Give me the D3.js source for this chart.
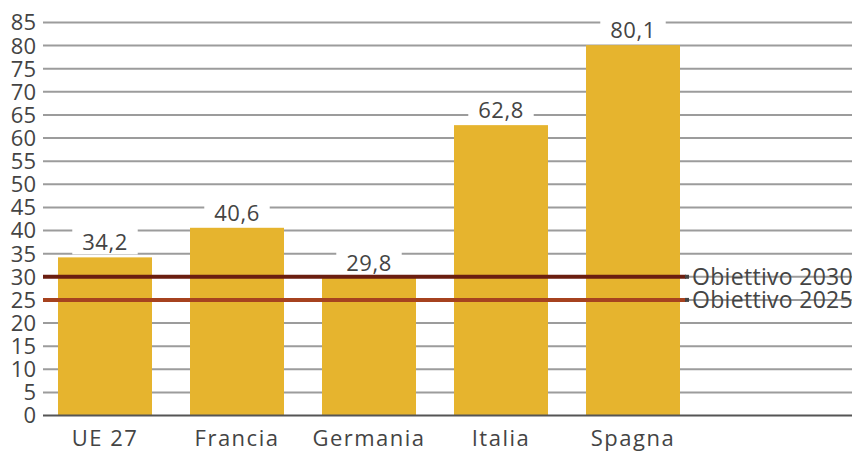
<!DOCTYPE html>
<html>
<head>
<meta charset="utf-8">
<script src="https://cdn.jsdelivr.net/npm/d3@7"></script>
<style>
  html, body { margin: 0; padding: 0; background: #fff; }
  svg { display: block; font-family: "Open Sans", "Noto Sans", sans-serif; }
</style>
</head>
<body>
<svg id="chart" width="856" height="453"></svg>
<script>
const categories = ["UE 27", "Francia", "Germania", "Italia", "Spagna"];
const values = [34.2, 40.6, 29.8, 62.8, 80.1];
const valueLabels = ["34,2", "40,6", "29,8", "62,8", "80,1"];
const yTicks = [0, 5, 10, 15, 20, 25, 30, 35, 40, 45, 50, 55, 60, 65, 70, 75, 80, 85];
const targetNames = ["Obiettivo 2030", "Obiettivo 2025"];
const targetValues = [30, 25];

const svg = d3.select("#chart");
const textColor = "#444";

const y = d3.scaleLinear().domain([0, 85]).range([415.5, 22.5]);
const x = d3.scaleBand().domain(categories).range([39, 699]).paddingInner(0.288).paddingOuter(0.144);

// gridlines
const gridG = svg.append("g");
gridG.selectAll("line").data(yTicks.filter(d => d > 0)).join("line")
  .attr("x1", 43).attr("x2", 852)
  .attr("y1", d => y(d)).attr("y2", d => y(d))
  .attr("stroke", "#9c9c9c").attr("stroke-width", 2);

// y tick labels
svg.append("g").selectAll("text").data(yTicks).join("text")
  .attr("x", 36).attr("y", d => y(d))
  .attr("dy", "0.36em")
  .attr("text-anchor", "end")
  .attr("font-size", 22)
  .attr("fill", textColor)
  .text(d => d);

// bars
svg.append("g").selectAll("rect").data(values).join("rect")
  .attr("x", (d, i) => x(categories[i]))
  .attr("width", x.bandwidth())
  .attr("y", d => y(d))
  .attr("height", d => y(0) - y(d))
  .attr("fill", "#E6B42E");

// baseline axis
svg.append("line")
  .attr("x1", 43).attr("x2", 852)
  .attr("y1", y(0)).attr("y2", y(0))
  .attr("stroke", "#555").attr("stroke-width", 2);

// value labels with white background
const lblG = svg.append("g");
values.forEach((v, i) => {
  const cx = x(categories[i]) + x.bandwidth() / 2;
  const g = lblG.append("g");
  const t = g.append("text")
    .attr("x", cx).attr("y", y(v) - 7)
    .attr("text-anchor", "middle")
    .attr("font-size", 22)
    .attr("letter-spacing", 0.5)
    .attr("fill", textColor)
    .text(valueLabels[i]);
  const bb = t.node().getBBox();
  g.insert("rect", "text")
    .attr("x", bb.x - 10).attr("y", bb.y + 2)
    .attr("width", bb.width + 20).attr("height", bb.height - 4)
    .attr("fill", "#fff");
});

// target lines
const targetColors = ["#6B1E10", "#A6421F"];
const tg = svg.append("g");
targetValues.forEach((v, i) => {
  tg.append("line")
    .attr("x1", 43).attr("x2", 686)
    .attr("y1", y(v)).attr("y2", y(v))
    .attr("stroke", targetColors[i]).attr("stroke-width", 4);
  tg.append("rect")
    .attr("x", 685).attr("y", y(v) - 2)
    .attr("width", 4).attr("height", 4)
    .attr("fill", "#444");
  tg.append("text")
    .attr("x", 692).attr("y", y(v))
    .attr("dy", "0.36em")
    .attr("font-size", 23)
    .attr("letter-spacing", 0.3)
    .attr("fill", textColor)
    .text(targetNames[i]);
});

// category labels
svg.append("g").selectAll("text").data(categories).join("text")
  .attr("x", d => x(d) + x.bandwidth() / 2)
  .attr("y", 446)
  .attr("text-anchor", "middle")
  .attr("font-size", 22)
  .attr("letter-spacing", 1.5)
  .attr("fill", textColor)
  .text(d => d);
</script>
</body>
</html>
